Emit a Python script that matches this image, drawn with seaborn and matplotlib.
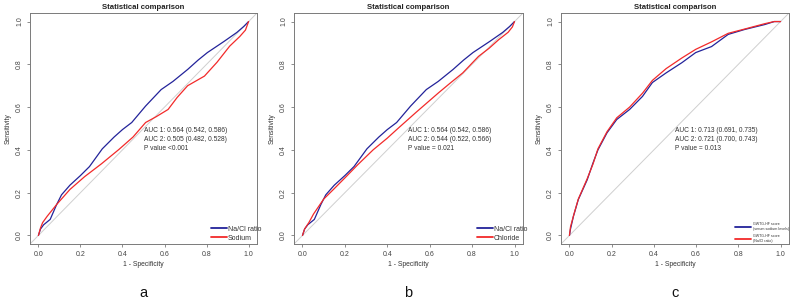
import numpy as np
import pandas as pd
import seaborn as sns
import matplotlib.pyplot as plt

# ROC curve points (x = 1 - specificity, y = sensitivity)
ratio_x = [0, 0.01, 0.025, 0.056, 0.087, 0.11, 0.15, 0.20, 0.243, 0.304, 0.36, 0.40, 0.444,
           0.51, 0.584, 0.64, 0.71, 0.76, 0.804, 0.883, 0.944, 0.977, 1.0]
ratio_y = [0, 0.03, 0.05, 0.075, 0.145, 0.19, 0.235, 0.28, 0.322, 0.405, 0.46, 0.495, 0.528,
           0.605, 0.682, 0.72, 0.776, 0.82, 0.855, 0.907, 0.949, 0.977, 1.0]

sodium_x = [0, 0.01, 0.02, 0.042, 0.087, 0.15, 0.22, 0.30, 0.383, 0.45, 0.51, 0.56, 0.617,
            0.66, 0.71, 0.79, 0.85, 0.91, 0.958, 0.985, 1.0]
sodium_y = [0, 0.035, 0.06, 0.09, 0.145, 0.215, 0.275, 0.335, 0.402, 0.46, 0.528, 0.555, 0.589,
            0.645, 0.70, 0.745, 0.81, 0.885, 0.93, 0.96, 1.0]

chloride_x = [0, 0.01, 0.03, 0.052, 0.1, 0.146, 0.207, 0.26, 0.333, 0.40, 0.45, 0.535, 0.643,
              0.70, 0.756, 0.83, 0.88, 0.925, 0.97, 0.99, 1.0]
chloride_y = [0, 0.03, 0.06, 0.10, 0.17, 0.215, 0.276, 0.33, 0.40, 0.455, 0.50, 0.575, 0.668,
              0.715, 0.76, 0.837, 0.875, 0.915, 0.95, 0.975, 1.0]

gwtg_na_x = [0, 0.005, 0.019, 0.042, 0.084, 0.112, 0.135, 0.178, 0.224, 0.285, 0.346, 0.393,
             0.458, 0.533, 0.598, 0.673, 0.752, 0.83, 0.925, 0.97, 1.0]
gwtg_na_y = [0, 0.03, 0.09, 0.168, 0.26, 0.34, 0.40, 0.48, 0.542, 0.589, 0.65, 0.715,
             0.76, 0.808, 0.855, 0.883, 0.94, 0.963, 0.986, 1.0, 1.0]

gwtg_ratio_x = [0, 0.005, 0.02, 0.042, 0.084, 0.112, 0.135, 0.178, 0.224, 0.285, 0.346, 0.393,
                0.458, 0.533, 0.598, 0.673, 0.752, 0.83, 0.925, 0.97, 1.0]
gwtg_ratio_y = [0, 0.04, 0.095, 0.17, 0.265, 0.335, 0.405, 0.485, 0.55, 0.60, 0.665, 0.725,
                0.78, 0.83, 0.87, 0.905, 0.945, 0.965, 0.99, 1.0, 1.0]

panel_letters = ['a', 'b', 'c']
legend_labels = [['Na/Cl ratio', 'Sodium'],
                 ['Na/Cl ratio', 'Chloride'],
                 ['GWTG-HF score\n(serum sodium levels)', 'GWTG-HF score\n(Na/Cl ratio)']]
auc_texts = [['AUC 1: 0.564 (0.542, 0.586)', 'AUC 2: 0.505 (0.482, 0.528)', 'P value <0.001'],
             ['AUC 1: 0.564 (0.542, 0.586)', 'AUC 2: 0.544 (0.522, 0.566)', 'P value = 0.021'],
             ['AUC 1: 0.713 (0.691, 0.735)', 'AUC 2: 0.721 (0.700, 0.743)', 'P value = 0.013']]
curves = [[(ratio_x, ratio_y), (sodium_x, sodium_y)],
          [(ratio_x, ratio_y), (chloride_x, chloride_y)],
          [(gwtg_na_x, gwtg_na_y), (gwtg_ratio_x, gwtg_ratio_y)]]

sns.set_style('white')
plt.rcParams['font.family'] = ['Liberation Sans', 'DejaVu Sans']

blue = '#23239a'
red = '#f22a2a'
grey = '#7a7a7a'

fig = plt.figure(figsize=(7.93, 3.01), dpi=100)
lefts = [30 / 793, 294 / 793, 561 / 793]
widths = [227 / 793, 229 / 793, 228 / 793]
ticks = [0, 0.2, 0.4, 0.6, 0.8, 1.0]

for i in range(3):
    ax = fig.add_axes([lefts[i], 57 / 301, widths[i], 231 / 301])
    ax.axline((0, 0), (1, 1), color='#cfcfcf', lw=0.7, zorder=1)
    for (cx, cy), col, lab in zip(curves[i], [blue, red], legend_labels[i]):
        df = pd.DataFrame({'x': cx, 'y': cy})
        sns.lineplot(data=df, x='x', y='y', ax=ax, color=col, lw=0.9, sort=False,
                     estimator=None, label=lab, zorder=3)
    ax.set_xlim(-0.04, 1.04)
    ax.set_ylim(-0.04, 1.04)
    ax.set_xticks(ticks)
    ax.set_yticks(ticks)
    ax.set_xticklabels([f'{t:.1f}' for t in ticks])
    ax.set_yticklabels([f'{t:.1f}' for t in ticks], rotation=90, va='center')
    ax.tick_params(axis='both', length=2.5, width=0.6, color=grey, labelsize=5.0,
                   labelcolor='#444444', pad=2.5, bottom=True, left=True)
    for s in ax.spines.values():
        s.set_color(grey)
        s.set_linewidth(0.7)
    ax.set_xlabel('1 - Specificity', fontsize=4.9, color='#333333', labelpad=2)
    ax.set_ylabel('Sensitivity', fontsize=4.9, color='#333333', labelpad=3)
    ax.set_title('Statistical comparison', fontsize=5.6, fontweight='bold',
                 color='#222222', pad=3)
    for j, t in enumerate(auc_texts[i]):
        ax.text(0.5, 0.49 - 0.041 * j, t, fontsize=4.8, color='#333333',
                ha='left', va='center')
    if i < 2:
        leg = ax.legend(loc='lower right', bbox_to_anchor=(1.02, 0.01), frameon=False,
                        fontsize=5.0, handlelength=2.2, handletextpad=0.2,
                        labelspacing=0.3, borderaxespad=0, borderpad=0)
    else:
        leg = ax.legend(loc='lower right', bbox_to_anchor=(1.0, 0.005), frameon=False,
                        fontsize=2.6, handlelength=4.5, handletextpad=0.5,
                        labelspacing=0.9, borderaxespad=0, borderpad=0)
    for line in leg.get_lines():
        line.set_linewidth(1.3)
    for txt in leg.get_texts():
        txt.set_color('#333333')
    fig.text(lefts[i] + widths[i] / 2, 4 / 301, panel_letters[i], fontsize=10.5,
             ha='center', va='baseline', color='#111111')

fig.savefig('out.png', dpi=100)
